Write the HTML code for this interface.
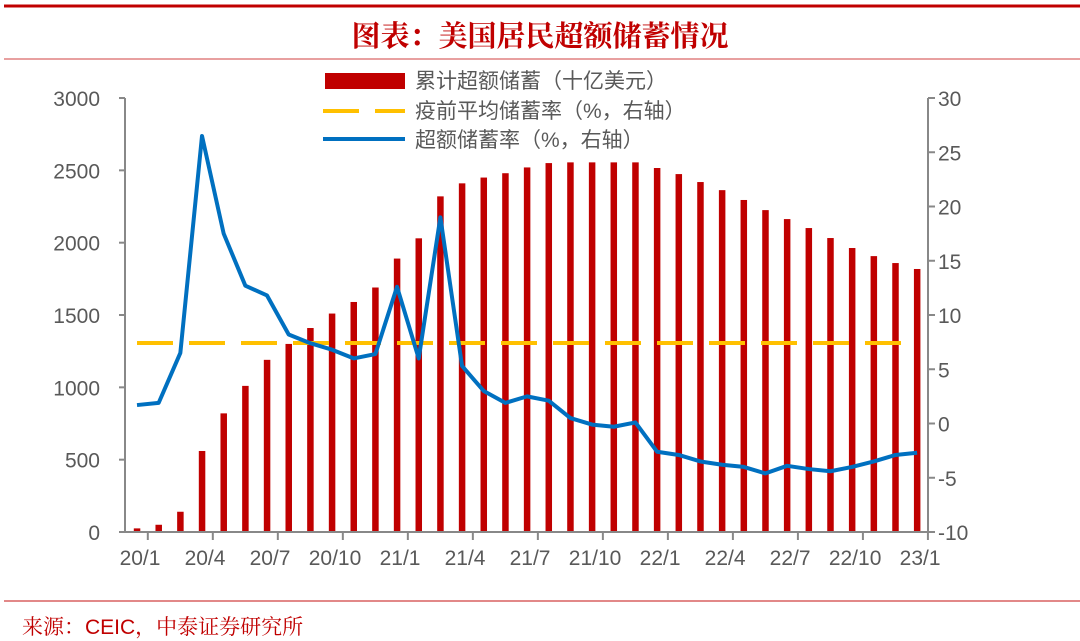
<!DOCTYPE html>
<html><head><meta charset="utf-8"><style>
body{margin:0;background:#fff;width:1080px;height:641px;overflow:hidden}
svg{display:block}
text{font-family:"Liberation Sans","Noto Sans CJK SC",sans-serif}
</style></head><body>
<svg width="1080" height="641" viewBox="0 0 1080 641" id="c">
<line x1="4" y1="6" x2="1080" y2="6" stroke="#c00000" stroke-width="3"/>
<line x1="4" y1="59" x2="1080" y2="59" stroke="#d04040" stroke-width="1"/>
<text x="540" y="46" font-size="29" font-weight="bold" fill="#c00000" text-anchor="middle" style="font-family:'Noto Serif CJK SC',serif">图表：美国居民超额储蓄情况</text>
<line x1="4" y1="601" x2="1080" y2="601" stroke="#d04040" stroke-width="1.2"/>
<text x="22" y="634" font-size="21" fill="#c00000" style="font-family:'Liberation Sans','Noto Serif CJK SC',serif">来源：CEIC，中泰证券研究所</text>
<g id="bars" fill="#c00000"></g>
<line x1="125" y1="532" x2="928" y2="532" stroke="#888" stroke-width="2"/>
<line x1="928" y1="98" x2="928" y2="532" stroke="#888" stroke-width="2"/>
<line x1="125" y1="98" x2="125" y2="532" stroke="#888" stroke-width="2"/>
<g id="ax" font-size="21" fill="#595959"></g>
<line x1="137" y1="343" x2="905" y2="343" stroke="#ffc000" stroke-width="4" stroke-dasharray="36,16"/>
<polyline id="ln" fill="none" stroke="#0070c0" stroke-width="4" stroke-linejoin="round"/>
<rect x="325" y="73" width="80" height="16" fill="#c00000"/>
<line x1="323" y1="111" x2="405" y2="111" stroke="#ffc000" stroke-width="4" stroke-dasharray="36,16"/>
<line x1="323" y1="139" x2="405" y2="139" stroke="#0070c0" stroke-width="4"/>
<g font-size="21" fill="#595959" style="font-family:'Noto Serif CJK SC',serif">
<text x="415" y="88">累计超额储蓄（十亿美元）</text>
<text x="415" y="118">疫前平均储蓄率（%，右轴）</text>
<text x="415" y="147">超额储蓄率（%，右轴）</text>
</g>
</svg>
<script>
var b=[25,50,140,560,820,1010,1190,1300,1410,1510,1590,1690,1890,2030,2320,2410,2450,2480,2520,2550,2555,2555,2555,2555,2516,2474,2419,2363,2295,2225,2163,2101,2032,1963,1907,1859,1818];
var l=[1.7,1.9,6.5,26.5,17.5,12.7,11.8,8.2,7.4,6.8,6,6.4,12.6,6,19,5.3,3,1.9,2.5,2.1,0.5,-0.1,-0.3,0.1,-2.6,-2.9,-3.5,-3.8,-4,-4.6,-3.9,-4.2,-4.4,-4,-3.5,-2.9,-2.7];
var ns="http://www.w3.org/2000/svg",g=document.getElementById('bars'),ax=document.getElementById('ax'),pts=[];
function X(i){return 137+i*21.67}
function L(x1,y1,x2,y2){var ln=document.createElementNS(ns,'line');ln.setAttribute('x1',x1);ln.setAttribute('x2',x2);ln.setAttribute('y1',y1);ln.setAttribute('y2',y2);ln.setAttribute('stroke','#888');ln.setAttribute('stroke-width',2);ax.appendChild(ln);}
b.forEach(function(v,i){var r=document.createElementNS(ns,'rect');var h=v*0.14467;r.setAttribute('x',X(i)-3.2);r.setAttribute('y',532-h);r.setAttribute('width',6.5);r.setAttribute('height',h);g.appendChild(r);});
l.forEach(function(v,i){pts.push(X(i)+','+(98+(30-v)*10.85));});
document.getElementById('ln').setAttribute('points',pts.join(' '));
function T(x,y,s,a){var t=document.createElementNS(ns,'text');t.setAttribute('x',x);t.setAttribute('y',y);t.setAttribute('text-anchor',a);t.textContent=s;ax.appendChild(t);}
for(var k=0;k<=6;k++){var y=532-k*72.33;T(100,y+8,String(k*500),'end');L(119,y,125,y);}
for(var k=0;k<=8;k++){var y=532-k*54.25;T(938,y+8,String(-10+k*5),'start');L(928,y,935,y);}
var labs=['20/1','20/4','20/7','20/10','21/1','21/4','21/7','21/10','22/1','22/4','22/7','22/10','23/1'];
labs.forEach(function(s,i){T(X(i*3)+3,565,s,'middle');var x=X(i*3)+10.8;L(x,532,x,540);});
</script>
</body></html>
